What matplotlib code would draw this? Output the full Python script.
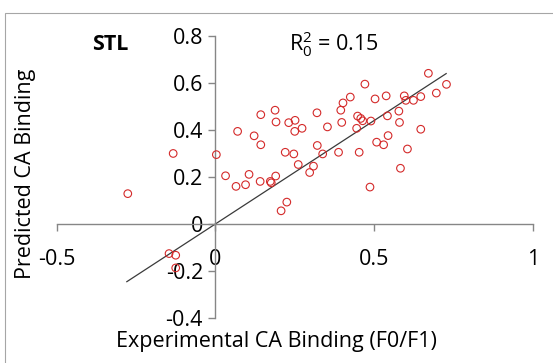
import matplotlib.pyplot as plt
from matplotlib.patches import Rectangle

# experimental (x) vs predicted (y) CA binding
exp_binding = [-0.276, -0.133, -0.146, -0.125, -0.125, 0.003, 0.032, 0.065, 0.070, 0.095,
               0.106, 0.122, 0.141, 0.143, 0.143, 0.173, 0.176, 0.188, 0.191, 0.190,
               0.207, 0.225, 0.220, 0.231, 0.247, 0.250, 0.251, 0.261, 0.273, 0.297,
               0.309, 0.320, 0.321, 0.338, 0.353, 0.388, 0.395, 0.398, 0.402, 0.425,
               0.445, 0.448, 0.453, 0.458, 0.464, 0.471, 0.487, 0.490, 0.503, 0.508,
               0.530, 0.538, 0.542, 0.544, 0.578, 0.580, 0.583, 0.595, 0.600, 0.605,
               0.624, 0.647, 0.647, 0.671, 0.696, 0.728]
pred_binding = [0.129, 0.300, -0.126, -0.133, -0.187, 0.295, 0.205, 0.160, 0.394, 0.167,
                0.211, 0.375, 0.181, 0.337, 0.465, 0.181, 0.175, 0.484, 0.434, 0.204,
                0.056, 0.093, 0.305, 0.431, 0.298, 0.394, 0.441, 0.253, 0.407, 0.219,
                0.246, 0.473, 0.334, 0.298, 0.413, 0.305, 0.484, 0.432, 0.515, 0.540,
                0.407, 0.459, 0.305, 0.449, 0.439, 0.595, 0.157, 0.438, 0.532, 0.348,
                0.337, 0.545, 0.460, 0.376, 0.480, 0.432, 0.237, 0.545, 0.526, 0.319,
                0.526, 0.542, 0.403, 0.641, 0.557, 0.594]

# fitted line through the origin
slope = 0.88
line_x = [-0.279, 0.727]
line_y = [slope * v for v in line_x]

x_ticks = [-0.5, 0, 0.5, 1]
x_labels = ['-0.5', '0', '0.5', '1']
y_ticks = [-0.4, -0.2, 0, 0.2, 0.4, 0.6, 0.8]
y_labels = ['-0.4', '-0.2', '0', '0.2', '0.4', '0.6', '0.8']

plt.rcParams['font.family'] = ['Open Sans', 'DejaVu Sans']
fs = 15.5

fig = plt.figure(figsize=(5.53, 3.63), dpi=100)
ax = fig.add_axes([0.1025, 0.124, 0.861, 0.777])

# chart area border (Excel style)
fig.patches.append(Rectangle((5 / 553, -0.1), 1.2, (363 - 13) / 363 + 0.1,
                             transform=fig.transFigure, fill=False,
                             edgecolor='#a6a6a6', linewidth=0.8))

ax.scatter(exp_binding, pred_binding, s=30, facecolors='none',
           edgecolors='#d42a2a', linewidths=0.8, zorder=3)
ax.plot(line_x, line_y, color='#3a3a3a', linewidth=0.9, zorder=2)

ax.set_xlim(-0.5, 1)
ax.set_ylim(-0.4, 0.8)

for s in ['top', 'right']:
    ax.spines[s].set_visible(False)
ax.spines['left'].set_position(('data', 0))
ax.spines['bottom'].set_position(('data', 0))
for s in ['left', 'bottom']:
    ax.spines[s].set_color('#868686')
    ax.spines[s].set_linewidth(1)

ax.set_xticks(x_ticks)
ax.set_xticklabels(x_labels)
ax.set_yticks(y_ticks)
ax.set_yticklabels(y_labels)
ax.tick_params(axis='both', colors='#868686', labelcolor='black', labelsize=fs,
               length=5, width=1)
ax.tick_params(axis='x', direction='out', pad=13)
ax.tick_params(axis='y', direction='out', pad=4)

fig.text(26 / 553, 1 - 174 / 363, 'Predicted CA Binding', rotation=90,
         ha='center', va='center', fontsize=fs)
fig.text(276 / 553, 1 - 342 / 363, 'Experimental CA Binding (F0/F1)',
         ha='center', va='center', fontsize=fs)
fig.text(110 / 553, 1 - 44 / 363, 'STL', ha='center', va='center',
         fontsize=fs, fontweight='bold')
fig.text(334 / 553, 1 - 44 / 363, r'$\mathregular{R_0^2}$ = 0.15',
         ha='center', va='center', fontsize=fs)

fig.savefig('out.png', dpi=100)
